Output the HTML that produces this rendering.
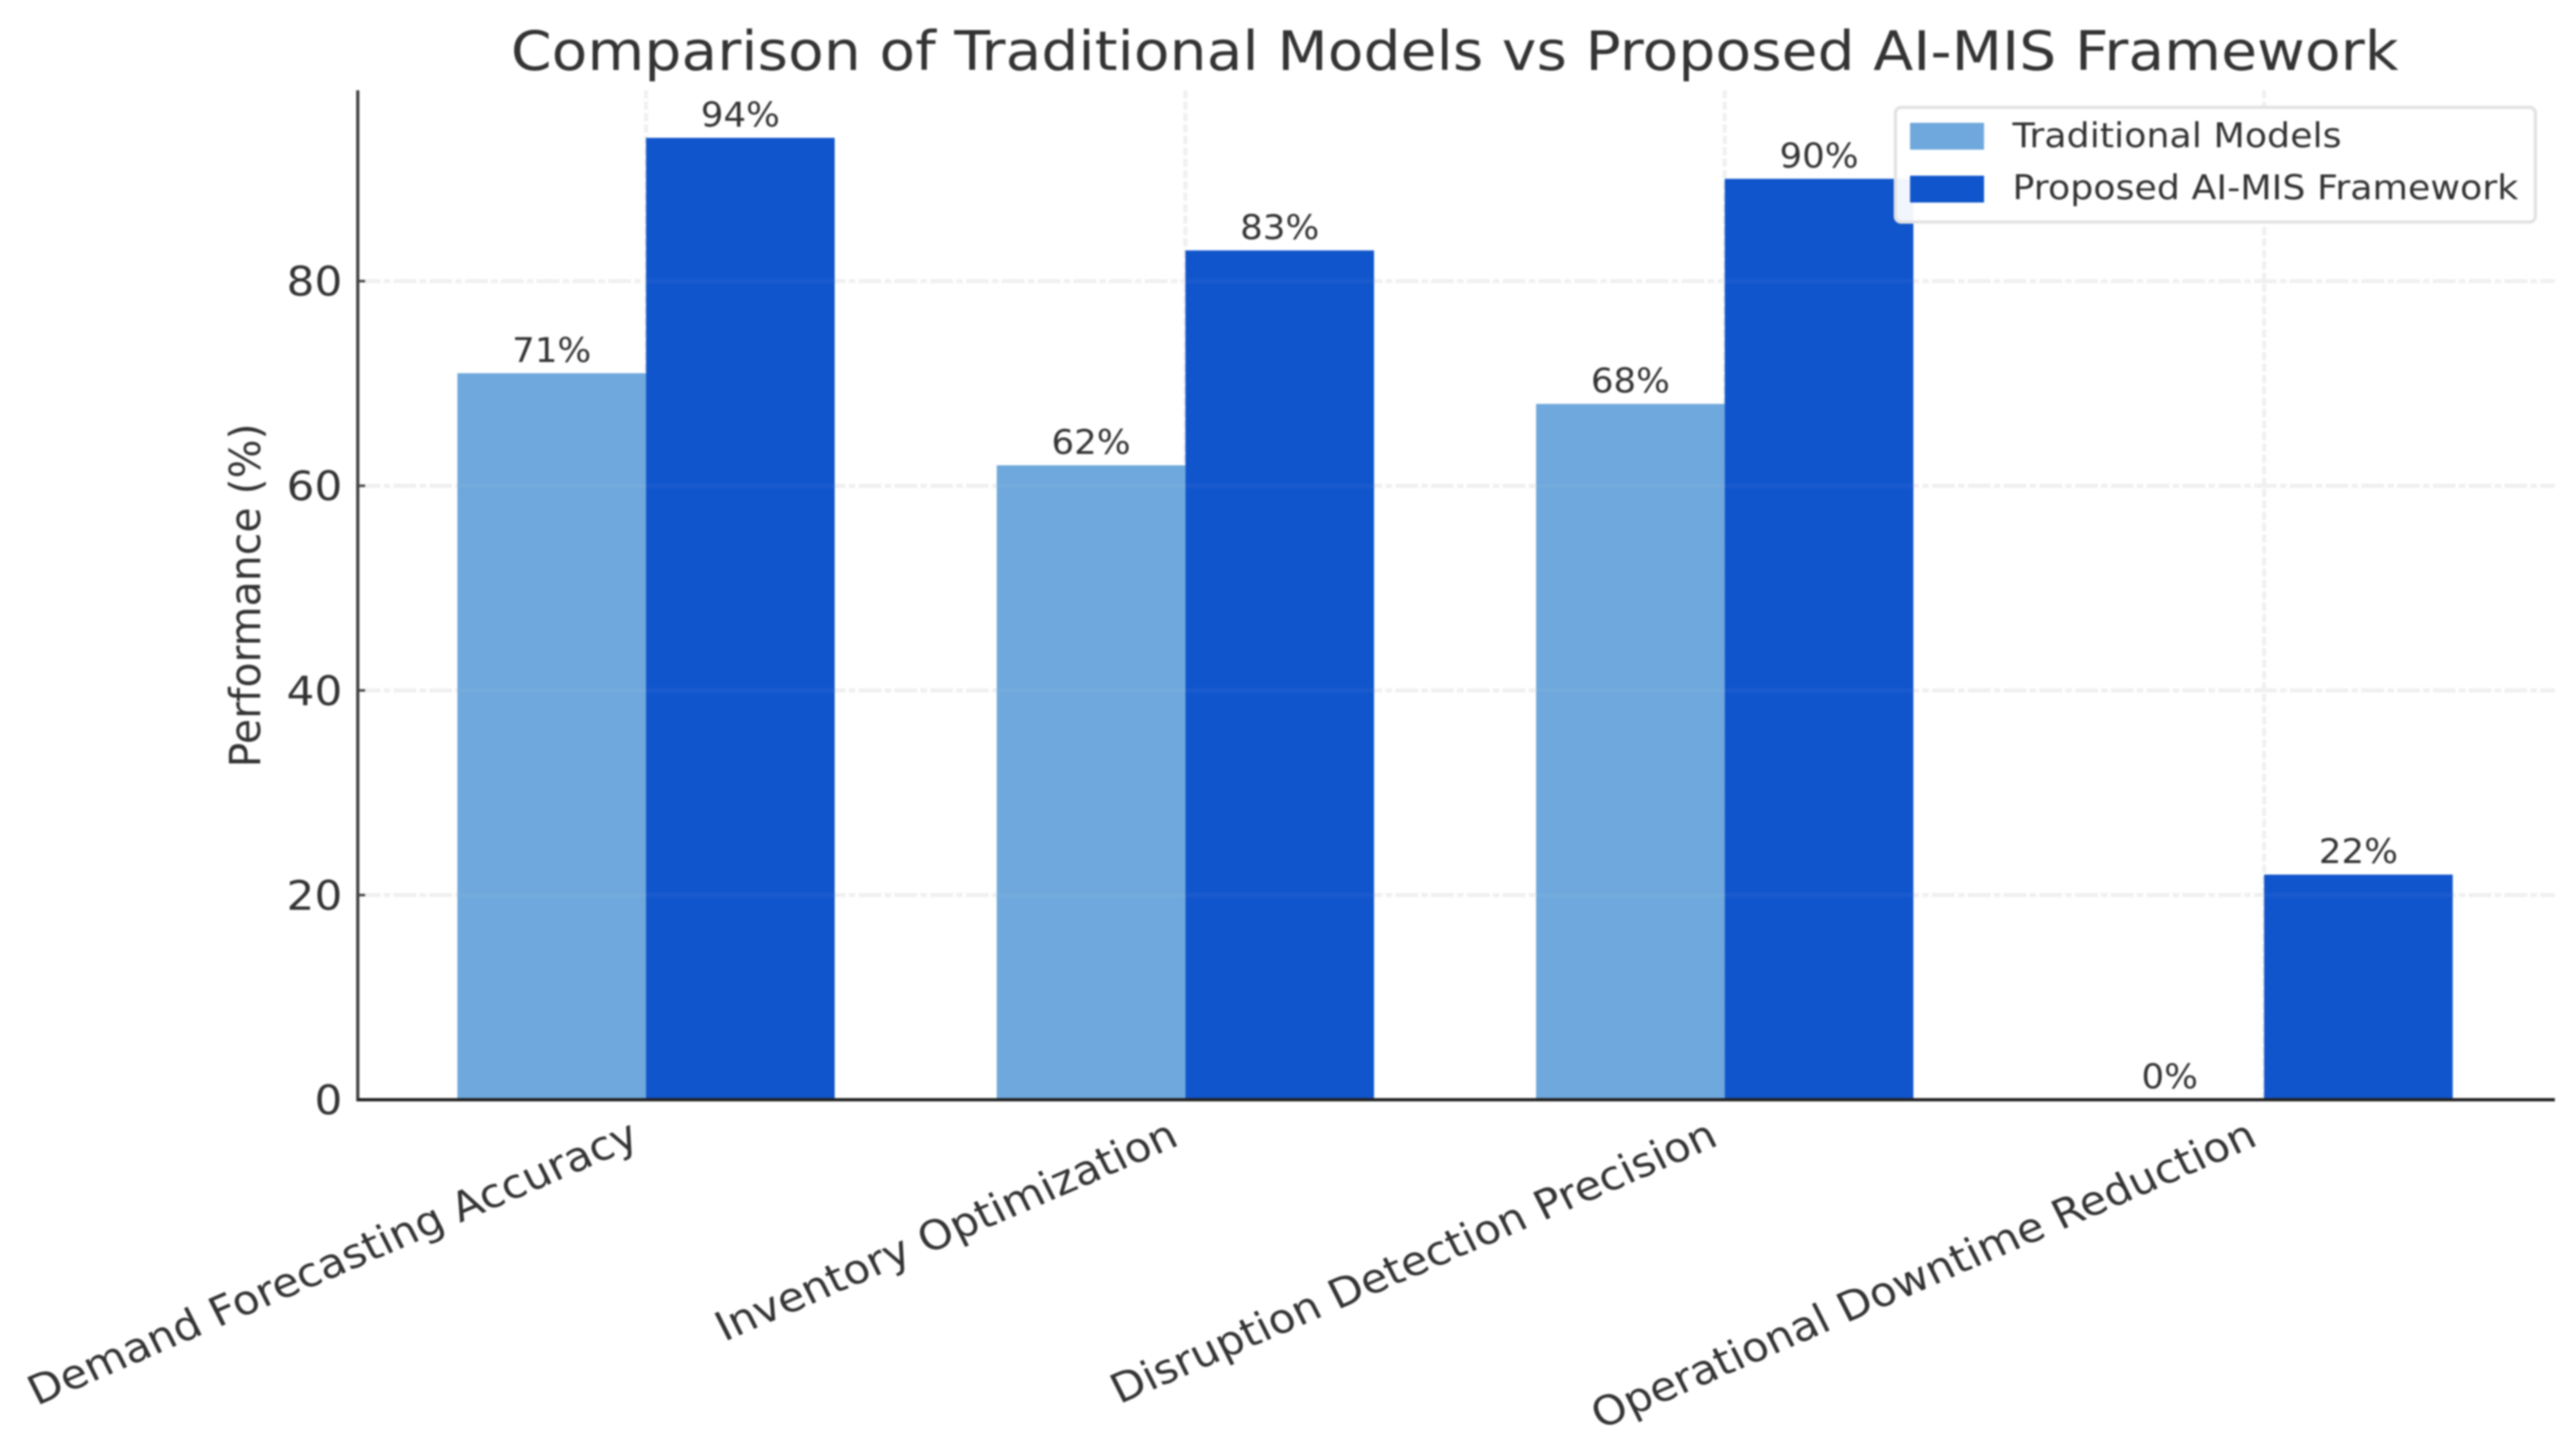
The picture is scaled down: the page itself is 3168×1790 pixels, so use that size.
<!DOCTYPE html>
<html>
<head>
<meta charset="utf-8">
<title>Comparison of Traditional Models vs Proposed AI-MIS Framework</title>
<style>
html,body{margin:0;padding:0;background:#fff;width:3168px;height:1790px;overflow:hidden}
svg{display:block;filter:blur(1px)}
text{font-family:"DejaVu Sans","Liberation Sans",sans-serif;fill:#333}
</style>
</head>
<body>
<svg id="chart" xmlns="http://www.w3.org/2000/svg" width="3168" height="1790" viewBox="0 0 3168 1790">
  <rect x="0" y="0" width="3168" height="1790" fill="#ffffff"/>
  <g id="grid"></g>
  <g id="bars"></g>
  <g id="grid-over"></g>
  <g id="values"></g>
  <g id="axes"></g>
  <text transform="translate(1789 86) scale(1.078 1)" font-size="66.7" text-anchor="middle">Comparison of Traditional Models vs Proposed AI-MIS Framework</text>
  <text transform="translate(320 732) rotate(-90) scale(1.009 1.05)" font-size="50" text-anchor="middle">Performance (%)</text>
  <g>
    <rect x="2331" y="132" width="787" height="141" rx="7" fill="#ffffff" fill-opacity="0.94" stroke="#e2e2e2" stroke-width="4"/>
    <rect x="2349" y="151" width="91" height="33" fill="#6fa8dc"/>
    <text transform="translate(2475 181) scale(1.073 1)" font-size="41.7">Traditional Models</text>
    <rect x="2349" y="216" width="91" height="33" fill="#1155cc"/>
    <text transform="translate(2475 245) scale(1.073 1)" font-size="41.7">Proposed AI-MIS Framework</text>
  </g>
</svg>
<script>
const categories = ["Demand Forecasting Accuracy", "Inventory Optimization", "Disruption Detection Precision", "Operational Downtime Reduction"];
const traditionalValues = [71, 62, 68, 0];
const proposedValues = [94, 83, 90, 22];
const yTicks = [0, 20, 40, 60, 80];

const NS = "http://www.w3.org/2000/svg";
const plotLeft = 440, plotRight = 3142, plotTop = 111, baseY = 1352;
const pxPerUnit = 12.58, firstCenter = 794.5, groupStep = 663.3, barWidth = 232;
const stretchX = 1.078;

function yScale(v) { return baseY - v * pxPerUnit; }
function xScale(i) { return firstCenter + i * groupStep; }
function make(tag, attrs, parent) {
  const node = document.createElementNS(NS, tag);
  for (const k in attrs) node.setAttribute(k, attrs[k]);
  document.getElementById(parent).appendChild(node);
  return node;
}

yTicks.forEach(function (t) {
  const y = yScale(t);
  if (t > 0) {
    const g = make("line", {x1: plotLeft, x2: plotRight, y1: y, y2: y, stroke: "#f0f0f0", "stroke-width": 5, "stroke-dasharray": "28 4 8 4"}, "grid");
    
    
    const o = make("line", {x1: plotLeft, x2: plotRight, y1: y, y2: y, stroke: "#ffffff", "stroke-opacity": 0.04, "stroke-width": 5}, "grid-over");
    
    
  }
  const tick = make("line", {x1: plotLeft, x2: plotLeft + 9, y1: y, y2: y, stroke: "#444", "stroke-width": 3}, "axes");
  
  
  const lab = make("text", {transform: "translate(421 " + (y + 18) + ") scale(" + stretchX + " 1)", "font-size": 50, "text-anchor": "end"}, "axes");
  lab.textContent = String(t);
  
  
});

categories.forEach(function (c, i) {
  const cx = xScale(i);
  const vg = make("line", {x1: cx, x2: cx, y1: plotTop, y2: baseY, stroke: "#f0f0f0", "stroke-width": 5, "stroke-dasharray": "10 4"}, "grid");
  
  

  const h1 = baseY - yScale(traditionalValues[i]);
  const b1 = make("rect", {x: cx - barWidth, y: yScale(traditionalValues[i]), width: barWidth, height: h1, fill: "#6fa8dc"}, "bars");
  
  

  const h2 = baseY - yScale(proposedValues[i]);
  const b2 = make("rect", {x: cx, y: yScale(proposedValues[i]), width: barWidth, height: h2, fill: "#1155cc"}, "bars");
  
  

  const v1 = make("text", {transform: "translate(" + (cx - barWidth / 2) + " " + (yScale(traditionalValues[i]) - 14) + ") scale(1.05 1)", "font-size": 41.7, "text-anchor": "middle"}, "values");
  v1.textContent = traditionalValues[i] + "%";
  
  

  const v2 = make("text", {transform: "translate(" + (cx + barWidth / 2) + " " + (yScale(proposedValues[i]) - 14) + ") scale(1.05 1)", "font-size": 41.7, "text-anchor": "middle"}, "values");
  v2.textContent = proposedValues[i] + "%";
  
  

  const lb = make("text", {transform: "translate(" + (cx - 6) + " " + (baseY + 55) + ") scale(" + stretchX + " 1) rotate(-25)", "font-size": 50, "text-anchor": "end"}, "axes");
  lb.textContent = c;
  
  
});

const yAxis = make("line", {x1: plotLeft, x2: plotLeft, y1: plotTop, y2: baseY + 2, stroke: "#444", "stroke-width": 4}, "axes");


const xAxis = make("line", {x1: plotLeft, x2: plotRight, y1: baseY, y2: baseY, stroke: "#222", "stroke-width": 4}, "axes");


</script>
</body>
</html>
